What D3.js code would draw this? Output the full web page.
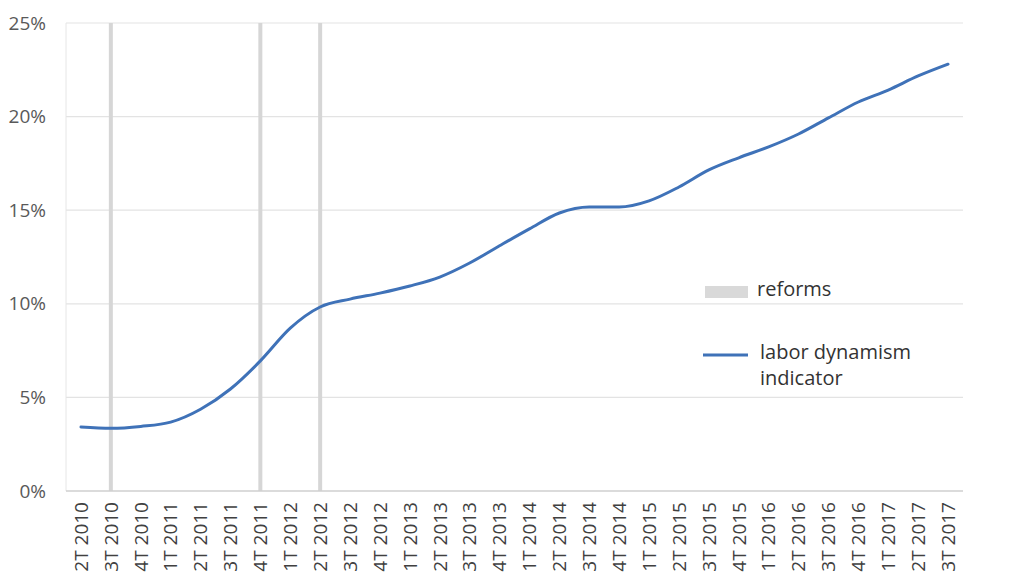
<!DOCTYPE html>
<html>
<head>
<meta charset="utf-8">
<script src="https://cdn.jsdelivr.net/npm/d3@7"></script>
<style>
  html, body { margin: 0; padding: 0; background: #ffffff; }
  svg { display: block; }
  text { font-family: "Open Sans", "Noto Sans", sans-serif; }
</style>
</head>
<body>
<svg id="chart" width="1024" height="584"></svg>
<script>
// ---- data ----
const quarters = ["2T 2010","3T 2010","4T 2010","1T 2011","2T 2011","3T 2011","4T 2011",
  "1T 2012","2T 2012","3T 2012","4T 2012","1T 2013","2T 2013","3T 2013","4T 2013",
  "1T 2014","2T 2014","3T 2014","4T 2014","1T 2015","2T 2015","3T 2015","4T 2015",
  "1T 2016","2T 2016","3T 2016","4T 2016","1T 2017","2T 2017","3T 2017"];
const indicator = [3.42,3.35,3.45,3.68,4.37,5.45,6.95,8.7,9.83,10.25,10.57,10.95,11.43,12.18,13.1,
  14.0,14.85,15.17,15.17,15.5,16.24,17.15,17.8,18.38,19.07,19.93,20.78,21.42,22.17,22.8];
const reforms = ["3T 2010","4T 2011","2T 2012"];
const yTicks = [0,5,10,15,20,25];
const legendLabels = ["reforms", ["labor dynamism","indicator"]];

// ---- layout ----
const svg = d3.select("#chart");
const margin = {left: 66, right: 61, top: 23, bottom: 93};
const W = 1024, H = 584;
const x = d3.scaleBand().domain(quarters).range([margin.left, W - margin.right]).padding(0);
const y = d3.scaleLinear().domain([0, 25]).range([H - margin.bottom, margin.top]);
const cx = d => x(d) + x.bandwidth() / 2;

// gridlines
svg.append("g").selectAll("line").data(yTicks.filter(t => t > 0)).join("line")
  .attr("x1", margin.left).attr("x2", W - margin.right)
  .attr("y1", d => y(d)).attr("y2", d => y(d))
  .attr("stroke", "#e3e3e3").attr("stroke-width", 1.2);

// left border
svg.append("line").attr("x1", margin.left).attr("x2", margin.left)
  .attr("y1", y(25)).attr("y2", y(0)).attr("stroke", "#e6e6e6").attr("stroke-width", 1);

// reforms
svg.append("g").selectAll("line").data(reforms).join("line")
  .attr("x1", d => cx(d)).attr("x2", d => cx(d))
  .attr("y1", y(25)).attr("y2", y(0))
  .attr("stroke", "#d6d6d6").attr("stroke-width", 4);

// x axis baseline
svg.append("line").attr("x1", margin.left).attr("x2", W - margin.right)
  .attr("y1", y(0)).attr("y2", y(0)).attr("stroke", "#cfcfcf").attr("stroke-width", 1.5);

// line
const line = d3.line().x((d, i) => cx(quarters[i])).y(d => y(d)).curve(d3.curveMonotoneX);
svg.append("path").datum(indicator).attr("d", line)
  .attr("fill", "none").attr("stroke", "#3f72b8").attr("stroke-width", 3)
  .attr("stroke-linecap", "round").attr("stroke-linejoin", "round");

// y axis labels
const yAxis = d3.axisLeft(y).tickValues(yTicks).tickSize(0).tickPadding(0)
  .tickFormat(d => d + "%");
const gy = svg.append("g").attr("transform", `translate(46,0)`).call(yAxis);
gy.select(".domain").remove();
gy.selectAll("text").attr("font-size", 19).attr("fill", "#595959")
  .attr("font-family", "'Open Sans', sans-serif");

// x axis labels
const xAxis = d3.axisBottom(x).tickSize(0).tickPadding(0);
const gx = svg.append("g").attr("transform", `translate(0,${y(0) + 11})`).call(xAxis);
gx.select(".domain").remove();
gx.selectAll("text")
  .attr("font-size", 19).attr("fill", "#404040")
  .attr("font-family", "'Open Sans', sans-serif")
  .attr("text-anchor", "end")
  .attr("transform", "rotate(-90)")
  .attr("x", 0).attr("y", 0).attr("dy", "0.36em");

// legend
const lg = svg.append("g");
lg.append("rect").attr("x", 705).attr("y", 286).attr("width", 43).attr("height", 12).attr("fill", "#d9d9d9");
lg.append("text").attr("x", 757).attr("y", 296).text(legendLabels[0])
  .attr("font-size", 20).attr("fill", "#333");
lg.append("line").attr("x1", 703).attr("x2", 748).attr("y1", 355).attr("y2", 355)
  .attr("stroke", "#3f72b8").attr("stroke-width", 3);
lg.append("text").attr("x", 760).attr("y", 359).text(legendLabels[1][0])
  .attr("font-size", 20).attr("fill", "#333");
lg.append("text").attr("x", 760).attr("y", 385).text(legendLabels[1][1])
  .attr("font-size", 20).attr("fill", "#333");
</script>
</body>
</html>
